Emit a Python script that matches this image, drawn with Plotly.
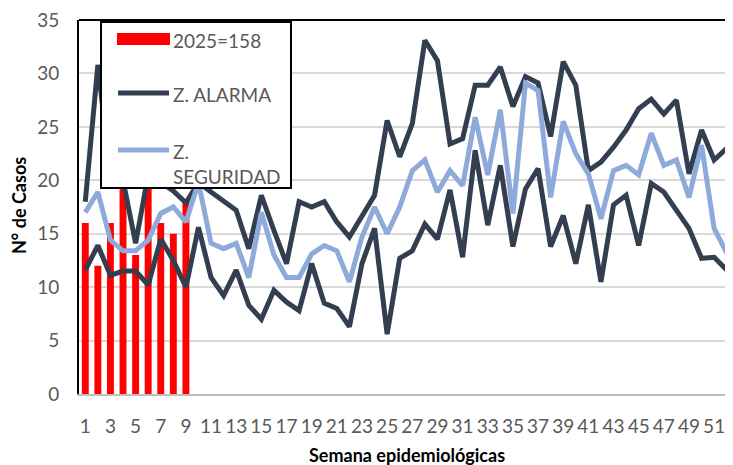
import plotly.graph_objects as go

# ── Data ──────────────────────────────────────────────────────────────────────

semanas = list(range(1, 53))
semanas_2025 = list(range(1, 10))
casos_2025 = [16, 12, 16, 26, 13, 26, 16, 15, 18]

zona_alarma = [18.0, 30.8, 20.5, 20.0, 14.1, 20.5, 19.8, 19.0, 17.9, 19.8,
               18.9, 18.1, 17.2, 13.6, 18.6, 15.3, 12.2, 18.0, 17.5, 18.0,
               16.1, 14.7, 16.6, 18.6, 25.6, 22.2, 25.3, 33.1, 31.2, 23.4,
               23.9, 28.9, 28.9, 30.6, 26.9, 29.7, 29.1, 24.1, 31.1, 28.9,
               20.9, 21.7, 23.1, 24.7, 26.7, 27.6, 26.2, 27.5, 20.6, 24.7,
               21.9, 23.0]

zona_seguridad = [17.0, 18.9, 14.4, 13.4, 13.4, 14.4, 16.9, 17.5, 16.1, 19.8,
                  14.1, 13.6, 14.1, 10.9, 17.0, 13.0, 10.9, 10.9, 13.1, 13.9,
                  13.4, 10.5, 14.7, 17.5, 15.0, 17.5, 20.9, 21.9, 18.9, 20.9,
                  19.5, 25.9, 20.5, 26.6, 16.9, 29.1, 28.4, 18.4, 25.5, 22.5,
                  20.6, 16.4, 20.9, 21.4, 20.5, 24.4, 21.4, 21.9, 18.4, 23.3,
                  15.5, 13.2]

zona_exito = [11.6, 13.9, 11.1, 11.5, 11.5, 10.2, 14.5, 12.5, 10.0, 15.6,
              10.9, 9.2, 11.6, 8.3, 7.0, 9.7, 8.6, 7.8, 12.2, 8.5,
              8.0, 6.3, 12.2, 15.5, 5.6, 12.7, 13.4, 15.9, 14.5, 19.1,
              12.8, 22.8, 15.8, 21.4, 13.8, 19.2, 21.1, 13.8, 16.7, 12.2,
              17.7, 10.5, 17.7, 18.6, 13.9, 19.7, 18.9, 17.1, 15.5, 12.7,
              12.8, 11.6]

x_ticks = list(range(1, 53, 2))
y_ticks = list(range(0, 36, 5))

ROJO = "#FF0000"
OSCURO = "#333F50"
CELESTE = "#8EAADB"
GRIS = "#595959"
FONT = "Lato"
LW = 5

# ── Figure ────────────────────────────────────────────────────────────────────

fig = go.Figure()
fig.add_trace(go.Bar(x=semanas_2025, y=casos_2025, width=0.55,
                     marker=dict(color=ROJO, line_width=0), name="2025=158"))
fig.add_trace(go.Scatter(x=semanas, y=zona_alarma, mode="lines",
                         line=dict(color=OSCURO, width=LW), name="Z. ALARMA"))
fig.add_trace(go.Scatter(x=semanas, y=zona_seguridad, mode="lines",
                         line=dict(color=CELESTE, width=LW), name="Z. SEGURIDAD"))
fig.add_trace(go.Scatter(x=semanas, y=zona_exito, mode="lines",
                         line=dict(color=OSCURO, width=LW), name="Z. ÉXITO"))

# the page body adds an 8px margin; positions below are window pixels
OFF = 8
FIG_W, FIG_H = 733 - OFF, 465 - OFF
# plot area in window pixels: x 79..733, y 20..394
L, T, W, H = 79, 20, 654, 374


def px(x):
    return (x - L) / W


def py(y):
    return (T + H - y) / H


shapes = [
    # frame: top + left black border
    dict(type="line", xref="paper", yref="paper", x0=0, x1=1, y0=1, y1=1,
         line=dict(color="black", width=2)),
    # legend box
    dict(type="rect", xref="paper", yref="paper", layer="above",
         x0=px(101), x1=px(291), y0=py(188), y1=py(22),
         fillcolor="white", line=dict(color="black", width=2)),
    dict(type="rect", xref="paper", yref="paper", layer="above",
         x0=px(117), x1=px(170), y0=py(45), y1=py(33),
         fillcolor=ROJO, line_width=0),
    dict(type="line", xref="paper", yref="paper", layer="above",
         x0=px(118), x1=px(169), y0=py(93), y1=py(93),
         line=dict(color=OSCURO, width=LW)),
    dict(type="line", xref="paper", yref="paper", layer="above",
         x0=px(118), x1=px(169), y0=py(150), y1=py(150),
         line=dict(color=CELESTE, width=LW)),
]

legend_txt = [("2025=158", 39), ("Z. ALARMA", 93), ("Z.<br>SEGURIDAD", 150)]
annotations = []
for txt, yy in legend_txt:
    annotations.append(dict(
        text=txt, xref="paper", yref="paper", x=px(171), y=py(yy - 12),
        xanchor="left", yanchor="top", align="left", showarrow=False,
        font=dict(family=FONT, size=19, color=GRIS)))

annotations.append(dict(
    text="<b>Semana epidemiológicas</b>", xref="paper", yref="paper",
    x=px(407), y=py(455), xanchor="center", yanchor="middle", showarrow=False,
    font=dict(family=FONT, size=18, color="black")))
annotations.append(dict(
    text="<b>N° de Casos</b>", xref="paper", yref="paper", textangle=-90,
    x=px(19), y=py(206), xanchor="center", yanchor="middle", showarrow=False,
    font=dict(family=FONT, size=18, color="black")))

fig.update_layout(
    width=FIG_W, height=FIG_H,
    margin=dict(l=L - OFF, r=FIG_W - (L - OFF) - W, t=T - OFF,
                b=FIG_H - (T - OFF) - H, autoexpand=False),
    paper_bgcolor="white", plot_bgcolor="white",
    showlegend=False,
    bargap=0.45,
    font=dict(family=FONT, size=19, color=GRIS),
    shapes=shapes,
    annotations=annotations,
)
fig.update_xaxes(
    range=[0.5, 52.5], tickvals=x_ticks, showgrid=False, zeroline=False,
    showline=True, linecolor="#BFBFBF", linewidth=2, automargin=False,
    ticks="", ticklabelstandoff=14, ticklabeloverflow="allow",
    tickfont=dict(family=FONT, size=19, color=GRIS),
)
fig.update_yaxes(
    range=[0, 35], tickvals=y_ticks, showgrid=True, gridcolor="#D9D9D9",
    gridwidth=1.5, zeroline=False, showline=True, linecolor="black",
    linewidth=2, automargin=False, ticks="", ticklabelstandoff=14,
    ticklabeloverflow="allow",
    tickfont=dict(family=FONT, size=19, color=GRIS),
)

fig.write_html("out.html")
